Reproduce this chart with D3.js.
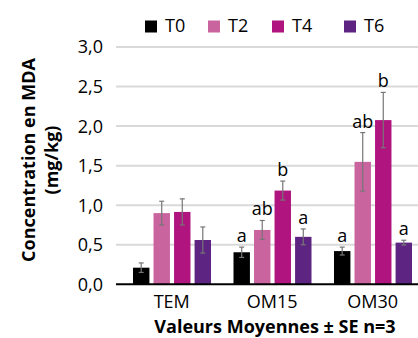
<!DOCTYPE html>
<html>
<head>
<meta charset="utf-8">
<script src="https://cdn.jsdelivr.net/npm/d3@7"></script>
<style>
  body { margin: 0; background: #fff; }
  svg { display: block; font-family: 'Open Sans', sans-serif; }
</style>
</head>
<body>
<div id="chart"></div>
<script>
const categories = ['TEM', 'OM15', 'OM30'];
const seriesNames = ['T0', 'T2', 'T4', 'T6'];
const colors = ['#000000', '#C9649F', '#B0147E', '#5E2482'];

const valT0 = [0.21, 0.405, 0.42];
const valT2 = [0.90, 0.687, 1.548];
const valT4 = [0.915, 1.185, 2.076];
const valT6 = [0.56, 0.60, 0.527];

const seT0 = [0.06, 0.065, 0.05];
const seT2 = [0.15, 0.12, 0.37];
const seT4 = [0.165, 0.12, 0.35];
const seT6 = [0.165, 0.10, 0.03];

const letT0 = ['', 'a', 'a'];
const letT2 = ['', 'ab', 'ab'];
const letT4 = ['', 'b', 'b'];
const letT6 = ['', 'a', 'a'];

const yTicks = [0, 0.5, 1.0, 1.5, 2.0, 2.5, 3.0];

const values = [valT0, valT2, valT4, valT6];
const errors = [seT0, seT2, seT4, seT6];
const letters = [letT0, letT2, letT4, letT6];

let data = [];
categories.forEach((c, ci) => {
  seriesNames.forEach((s, si) => {
    data.push({ cat: c, name: s, value: values[si][ci], se: errors[si][ci], letter: letters[si][ci], color: colors[si] });
  });
});

let width = 418, height = 338;
let plot = { left: 116, top: 47, bottom: 284.3 };

let svg = d3.select('#chart')
  .append('svg')
  .attr('width', width)
  .attr('height', height);

let x0 = d3.scaleBand()
  .domain(categories)
  .range([121.5, 423]);

let x1 = d3.scaleBand()
  .domain(seriesNames)
  .range([11.5, 89.5])
  .paddingInner(0.2);

let y = d3.scaleLinear()
  .domain([0, 3])
  .range([plot.bottom, plot.top]);

// gridlines
svg.append('g')
  .selectAll('line')
  .data(yTicks.filter(d => d > 0))
  .enter()
  .append('line')
  .attr('x1', plot.left)
  .attr('x2', width)
  .attr('y1', d => y(d))
  .attr('y2', d => y(d))
  .style('stroke', '#D9D9D9')
  .style('stroke-width', 2);

// y tick labels
svg.append('g')
  .selectAll('text')
  .data(yTicks)
  .enter()
  .append('text')
  .attr('x', 103)
  .attr('y', d => y(d))
  .attr('dy', '0.36em')
  .attr('text-anchor', 'end')
  .style('font-size', '18px')
  .text(d => d3.format('.1f')(d).replace('.', ','));

// bars
let bar = svg.selectAll('.bar-group')
  .data(data)
  .enter()
  .append('g')
  .attr('class', 'bar-group')
  .attr('transform', d => `translate(${x0(d.cat) + x1(d.name)},0)`);

bar.append('rect')
  .attr('x', 0)
  .attr('y', d => y(d.value))
  .attr('width', x1.bandwidth())
  .attr('height', d => y(0) - y(d.value))
  .style('fill', d => d.color);

let bw = x1.bandwidth();
bar.append('line')
  .attr('x1', bw / 2).attr('x2', bw / 2)
  .attr('y1', d => y(d.value + d.se))
  .attr('y2', d => y(d.value - d.se))
  .style('stroke', '#767676').style('stroke-width', 1.2);

bar.selectAll('.cap')
  .data(d => [d.value + d.se, d.value - d.se])
  .enter()
  .append('line')
  .attr('class', 'cap')
  .attr('x1', bw / 2 - 2.5).attr('x2', bw / 2 + 2.5)
  .attr('y1', d => y(d)).attr('y2', d => y(d))
  .style('stroke', '#767676').style('stroke-width', 1.2);

bar.append('text')
  .attr('x', bw / 2)
  .attr('y', d => y(d.value + d.se) - 5)
  .attr('text-anchor', 'middle')
  .style('font-size', '18px')
  .text(d => d.letter);

// x axis line
svg.append('line')
  .attr('x1', plot.left).attr('x2', width)
  .attr('y1', y(0)).attr('y2', y(0))
  .style('stroke', '#000').style('stroke-width', 2);

// category labels
svg.append('g')
  .selectAll('text')
  .data(categories)
  .enter()
  .append('text')
  .attr('x', d => x0(d) + x0.bandwidth() / 2)
  .attr('y', 308)
  .attr('text-anchor', 'middle')
  .style('font-size', '18px')
  .text(d => d);

// axis titles
svg.append('text')
  .attr('x', 275)
  .attr('y', 333)
  .attr('text-anchor', 'middle')
  .style('font-size', '18px')
  .style('font-weight', 'bold')
  .text('Valeurs Moyennes ± SE n=3');

let yTitle = svg.append('text')
  .attr('transform', 'translate(35,160) rotate(-90)')
  .attr('text-anchor', 'middle')
  .style('font-size', '18px')
  .style('font-weight', 'bold');
yTitle.append('tspan').attr('x', 0).attr('y', 0).text('Concentration en MDA');
yTitle.append('tspan').attr('x', 0).attr('y', 23).text('(mg/kg)');

// legend
const legendX = [145, 208, 272, 344];
let legend = svg.selectAll('.legend')
  .data(seriesNames)
  .enter()
  .append('g')
  .attr('class', 'legend')
  .attr('transform', (d, i) => `translate(${legendX[i]},20.5)`);

legend.append('rect')
  .attr('width', 12).attr('height', 12)
  .style('fill', (d, i) => colors[i]);

legend.append('text')
  .attr('x', 20)
  .attr('y', 11.5)
  .style('font-size', '18px')
  .text(d => d);
</script>
</body>
</html>
